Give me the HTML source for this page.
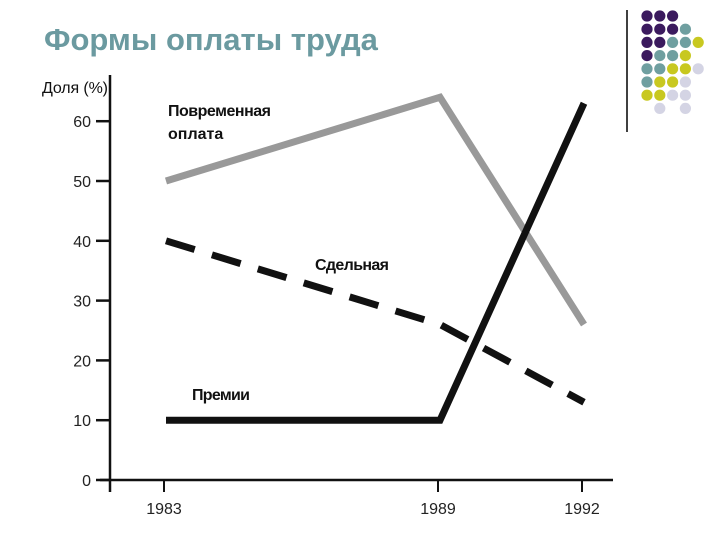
<!DOCTYPE html>
<html><head><meta charset="utf-8"><style>
body{margin:0;background:#fff;}
svg{display:block;font-family:"Liberation Sans",Arial,sans-serif;}
</style></head><body>
<svg width="720" height="540">
<text x="44" y="50" font-size="31" font-weight="bold" fill="#6b9aa0">Формы оплаты труда</text>
<line x1="627" y1="10" x2="627" y2="132" stroke="#000" stroke-width="1.5"/>
<g id="dots"></g>
<g id="axes"></g>
<g id="series"></g>
<text x="168" y="116" font-size="16" font-weight="bold" fill="#111" textLength="103">Повременная</text>
<text x="168" y="139" font-size="16" font-weight="bold" fill="#111">оплата</text>
<text x="315" y="270" font-size="16" font-weight="bold" fill="#111" textLength="74">Сдельная</text>
<text x="192" y="400" font-size="16" font-weight="bold" fill="#111" textLength="58">Премии</text>
<text x="42" y="93" font-size="16" fill="#111" textLength="66">Доля (%)</text>
</svg>
<script>
const years=["1983","1989","1992"];
const timePay=[50,64,26];
const piecePay=[40,26,13];
const bonus=[10,10,63];
const yTicks=[0,10,20,30,40,50,60];
const NS="http://www.w3.org/2000/svg";
function mk(t,a,p){const e=document.createElementNS(NS,t);for(const k in a)e.setAttribute(k,a[k]);p.appendChild(e);return e;}
const xPos={"1983":166,"1989":440,"1992":584};
function x(c){return xPos[c];}
function y(v){return 480-v*5.98;}
const ax=document.getElementById('axes');
let l=mk('line',{x1:110,y1:75,x2:110,y2:492,stroke:'#111','stroke-width':2.5},ax);


l=mk('line',{x1:100,y1:480,x2:613,y2:480,stroke:'#111','stroke-width':2.5},ax);


yTicks.forEach(v=>{
 const t=mk('line',{x1:96,y1:y(v),x2:110,y2:y(v),stroke:'#111','stroke-width':2.5},ax);
 
 
 const tx=mk('text',{x:91,y:y(v)+6,'text-anchor':'end','font-size':16,fill:'#222'},ax);
 tx.textContent=v;
 
 
});
years.forEach(c=>{
 const t=mk('line',{x1:x(c)-2,y1:480,x2:x(c)-2,y2:492,stroke:'#111','stroke-width':2},ax);
 
 
 const tx=mk('text',{x:x(c)-2,y:514,'text-anchor':'middle','font-size':16,fill:'#222'},ax);
 tx.textContent=c;
 
 
});
const sg=document.getElementById('series');
function line(vals,color,dash,name){
 const pts=vals.map((v,i)=>x(years[i])+','+y(v)).join(' ');
 const a={points:pts,fill:'none',stroke:color,'stroke-width':7,'stroke-linejoin':'miter'};
 if(dash)a['stroke-dasharray']=dash;
 const p=mk('polyline',a,sg);
 
 
}
line(timePay,'#999',null,'line-time-pay');
line(piecePay,'#111','30 18','line-piece-pay');
line(bonus,'#111',null,'line-bonus');
const dg=document.getElementById('dots');
const C={P:'#3b1a5e',T:'#6f9fa0',Y:'#c8c820',L:'#d4d4e4'};
const rows=["PPP","PPPT","PPTTY","PTTY","TTYYL","TYYL","YYLL",".L.L"];
rows.forEach((r,ri)=>{[...r].forEach((ch,ci)=>{
 if(ch==='.')return;
 const d=mk('circle',{cx:647+ci*12.8,cy:16+ri*13.2,r:5.6,fill:C[ch]},dg);
 
 
});});
</script>
</body></html>
